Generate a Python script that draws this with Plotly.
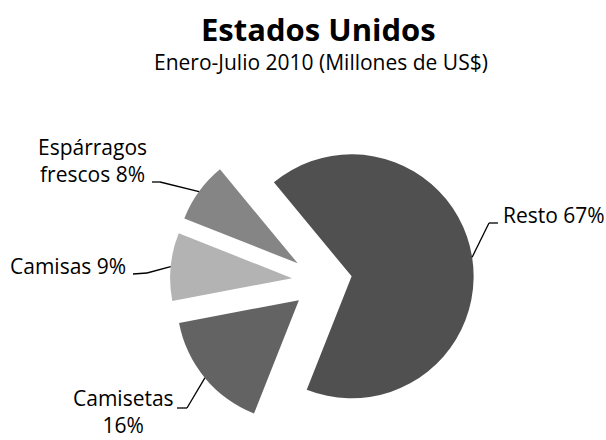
import math
import plotly.graph_objects as go

# ---- data ----
categories = ["Resto", "Camisetas", "Camisas", "Espárragos frescos"]
shares = [67, 16, 9, 8]
label_texts = ["Resto 67%", "Camisetas<br>16%", "Camisas 9%", "Espárragos<br>frescos 8%"]
colors = ["#505050", "#636363", "#b3b3b3", "#858585"]

title_text = "Estados Unidos"
subtitle_text = "Enero-Julio 2010 (Millones de US$)"

W, H = 606, 440
PULL = 0.246
ROTATION = -39.6
DOM_X = [0.2805, 0.7822]
DOM_Y = [0.0159, 0.7068]
FONT = "Open Sans"

fig = go.Figure(go.Pie(
    labels=categories,
    values=shares,
    sort=False,
    direction="clockwise",
    rotation=ROTATION,
    pull=[PULL] * len(shares),
    marker=dict(colors=colors, line=dict(width=0)),
    textinfo="none",
    hoverinfo="label+percent",
    showlegend=False,
    domain=dict(x=DOM_X, y=DOM_Y),
))

# pie geometry (same rules plotly uses), in pixels
box_w = W * (DOM_X[1] - DOM_X[0])
box_h = H * (DOM_Y[1] - DOM_Y[0])
r = min(box_w, box_h) / (2 + 2 * PULL)
cx = W * (DOM_X[0] + DOM_X[1]) / 2
cy = H * (1 - (DOM_Y[0] + DOM_Y[1]) / 2)

def px(x):
    return x / W

def py(y):
    return 1 - y / H

total = sum(shares)
cum = 0
arc_pts = []
for v in shares:
    mid = math.radians(ROTATION + 360 * (cum + v / 2) / total)
    cum += v
    d = (1 + PULL) * r
    arc_pts.append((cx + d * math.sin(mid), cy - d * math.cos(mid)))

# leader line elbows (pixels): elbow, end of horizontal run
elbows = [((489, 223), (498, 223)),
          ((187, 408), (177, 408)),
          ((147, 273), (133, 274)),
          ((160, 182), (152, 182))]

shapes = []
for (ax, ay), ((ex, ey), (hx, hy)) in zip(arc_pts, elbows):
    for (x0, y0, x1, y1) in [(ax, ay, ex, ey), (ex, ey, hx, hy)]:
        shapes.append(dict(type="line", xref="paper", yref="paper",
                           x0=px(x0), y0=py(y0), x1=px(x1), y1=py(y1),
                           line=dict(color="black", width=1.3)))

# label anchors (pixels): x, y, xanchor
label_pos = [(501, 215, "left"),
             (176, 411, "right"),
             (128, 266, "right"),
             (149, 160, "right")]

annotations = []
for txt, (x, y, xa) in zip(label_texts, label_pos):
    annotations.append(dict(text=txt, x=px(x), y=py(y), xref="paper", yref="paper",
                            xanchor=xa, yanchor="middle", align="center", showarrow=False,
                            font=dict(family=FONT, size=21, color="black")))

annotations.append(dict(text="<b>" + title_text + "</b>", x=px(318), y=py(29),
                        xref="paper", yref="paper", xanchor="center", yanchor="middle",
                        showarrow=False, font=dict(family=FONT, size=31, color="black")))
annotations.append(dict(text=subtitle_text, x=px(321), y=py(62),
                        xref="paper", yref="paper", xanchor="center", yanchor="middle",
                        showarrow=False, font=dict(family=FONT, size=21, color="black")))

fig.update_layout(
    width=W, height=H,
    margin=dict(l=0, r=0, t=0, b=0),
    paper_bgcolor="white", plot_bgcolor="white",
    shapes=shapes, annotations=annotations,
)

fig.write_html("out.html",
               config={"displayModeBar": False},
               post_script="document.body.style.margin='0';document.body.style.overflow='hidden';")
